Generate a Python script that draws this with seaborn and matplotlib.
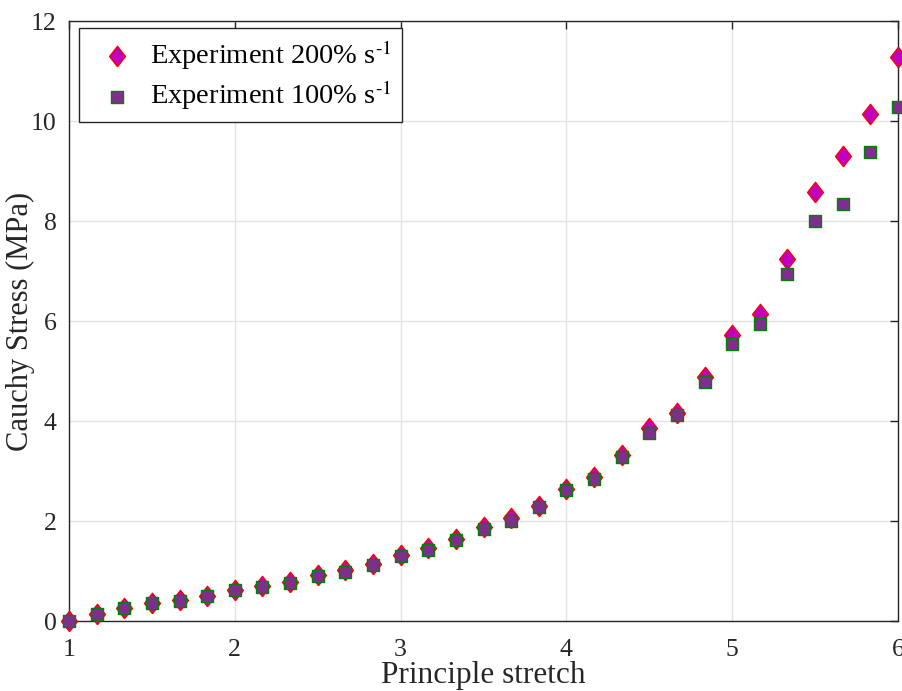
import numpy as np
import pandas as pd
import matplotlib
matplotlib.use("Agg")
import matplotlib.pyplot as plt
import seaborn as sns

# Data
stretch = [1.0, 1.1667, 1.3333, 1.5, 1.6667, 1.8333, 2.0, 2.1667, 2.3333, 2.5,
           2.6667, 2.8333, 3.0, 3.1667, 3.3333, 3.5, 3.6667, 3.8333, 4.0, 4.1667,
           4.3333, 4.5, 4.6667, 4.8333, 5.0, 5.1667, 5.3333, 5.5, 5.6667, 5.8333, 6.0]
stress_200 = [0.0, 0.15, 0.27, 0.36, 0.42, 0.50, 0.62, 0.70, 0.78, 0.92,
              1.02, 1.15, 1.32, 1.46, 1.65, 1.88, 2.07, 2.30, 2.65, 2.88,
              3.33, 3.87, 4.17, 4.88, 5.72, 6.15, 7.24, 8.59, 9.30, 10.14, 11.29]
stress_100 = [0.0, 0.15, 0.27, 0.37, 0.40, 0.51, 0.63, 0.69, 0.77, 0.91,
              0.99, 1.13, 1.31, 1.43, 1.62, 1.85, 2.01, 2.29, 2.62, 2.85,
              3.28, 3.77, 4.12, 4.78, 5.55, 5.95, 6.94, 8.00, 8.35, 9.38, 10.28]
labels = [r"Experiment 200% s$^{\text{-1}}$", r"Experiment 100% s$^{\text{-1}}$"]
xticks = [1, 2, 3, 4, 5, 6]
yticks = [0, 2, 4, 6, 8, 10, 12]

sns.set_theme(style="white")
plt.rcParams["font.family"] = ["Liberation Serif", "DejaVu Serif"]
plt.rcParams["mathtext.fontset"] = "stix"

fig = plt.figure(figsize=(9.03, 6.91), dpi=100)
ax = fig.add_axes([0.0764, 0.1013, 0.9181, 0.8683])

df200 = pd.DataFrame({"x": stretch, "y": stress_200})
df100 = pd.DataFrame({"x": stretch, "y": stress_100})

diamond = [(0, -1), (0.78, 0), (0, 1), (-0.78, 0), (0, -1)]
sns.scatterplot(data=df200, x="x", y="y", ax=ax, marker=diamond, s=215,
                color="#BF00BF", edgecolor="red", linewidth=1.0,
                label=labels[0], zorder=3, clip_on=False)
sns.scatterplot(data=df100, x="x", y="y", ax=ax, marker="s", s=70,
                color="#7E2F8E", edgecolor="#008000", linewidth=1.0,
                label=labels[1], zorder=4, clip_on=False)

ax.set_xlim(1, 6)
ax.set_ylim(0, 12)
ax.set_xticks(xticks)
ax.set_yticks(yticks)
ax.grid(True, color="#e3e3e3", linewidth=1.0)
ax.set_axisbelow(True)
for sp in ax.spines.values():
    sp.set_visible(True)
    sp.set_color("#262626")
    sp.set_linewidth(1.0)
ax.tick_params(direction="in", length=6, width=1, colors="#262626",
               top=True, right=True, labelsize=18.5)
ax.tick_params(axis="x", pad=13)
ax.tick_params(axis="y", pad=9)

ax.set_xlabel("Principle stretch", fontsize=22.5, color="#262626")
ax.set_ylabel("Cauchy Stress (MPa)", fontsize=22, color="#262626")
ax.xaxis.set_label_coords(0.5, -0.0915)
ax.yaxis.set_label_coords(-0.059, 0.5)
ax.xaxis.label.set_va("center")
ax.yaxis.label.set_va("center")

leg = ax.legend(loc="upper left", bbox_to_anchor=(0.012, 0.988), borderaxespad=0,
                fontsize=20.5, frameon=True, fancybox=False, edgecolor="#262626",
                framealpha=1, handletextpad=0.15, borderpad=0.35, labelspacing=0.25)
leg.get_frame().set_linewidth(1.0)
for t in leg.get_texts():
    t.set_color("black")

fig.savefig("out.png", dpi=100)
